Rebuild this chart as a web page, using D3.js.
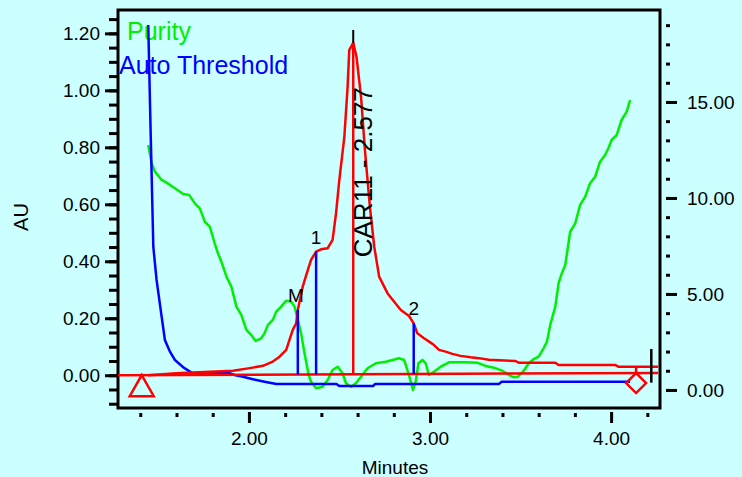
<!DOCTYPE html>
<html>
<head>
<meta charset="utf-8">
<script src="https://cdn.jsdelivr.net/npm/d3@7"></script>
<style>
  body { margin: 0; background: #ccffff; }
  svg { display: block; font-family: "Liberation Sans", Arial, sans-serif; }
</style>
</head>
<body>
<svg id="chart" width="742" height="477"></svg>
<script>
// values
const purityTime = [1.444,1.463,1.481,1.518,1.545,1.591,1.637,1.670,1.701,1.729,1.756,1.784,1.811,1.829,1.848,1.876,1.903,1.931,1.958,1.986,2.013,2.037,2.068,2.086,2.105,2.132,2.151,2.178,2.206,2.233,2.252,2.270,2.288,2.307,2.330,2.343,2.371,2.407,2.435,2.462,2.490,2.517,2.536,2.564,2.591,2.619,2.655,2.701,2.756,2.793,2.829,2.857,2.875,2.894,2.906,2.921,2.936,2.958,2.976,2.994,3.022,3.059,3.105,3.196,3.260,3.307,3.352,3.398,3.435,3.462,3.486,3.517,3.545,3.572,3.600,3.627,3.646,3.664,3.692,3.710,3.728,3.747,3.774,3.802,3.829,3.857,3.884,3.912,3.939,3.967,3.985,4.003,4.031,4.058,4.086,4.105];
const purityValue = [12.76,11.81,11.37,10.94,10.80,10.51,10.21,10.16,9.72,9.46,8.77,8.51,7.64,7.12,6.68,5.90,5.38,4.34,3.91,3.13,2.86,2.55,2.69,2.95,3.39,3.65,4.08,4.34,4.65,4.60,4.34,3.65,2.95,1.91,0.78,0.43,0.09,0.17,0.52,1.04,1.21,0.87,0.35,0.17,0.35,0.69,1.13,1.39,1.47,1.56,1.65,1.56,1.04,0.43,0.00,0.43,1.39,1.56,1.39,0.78,0.95,1.21,1.44,1.44,1.42,1.25,1.16,1.01,0.78,0.66,0.69,0.99,1.39,1.60,1.73,2.17,2.52,3.39,4.34,5.56,6.08,6.51,8.24,8.68,9.64,10.07,10.77,11.11,11.89,12.24,12.59,13.02,13.28,14.06,14.50,15.10];

const chromTime = [1.443,1.600,1.912,2.004,2.077,2.132,2.169,2.206,2.242,2.261,2.270,2.297,2.325,2.343,2.371,2.398,2.435,2.462,2.481,2.499,2.527,2.545,2.554,2.576,2.594,2.619,2.642,2.668,2.692,2.719,2.765,2.802,2.839,2.884,2.910,2.930,2.967,2.995,3.022,3.050,3.086,3.123,3.169,3.224,3.270,3.325,3.472,3.490,3.692,3.710,4.022,4.040,4.260];
const chromAU = [0,0.007,0.016,0.025,0.033,0.048,0.065,0.089,0.159,0.182,0.229,0.311,0.369,0.405,0.434,0.442,0.446,0.475,0.568,0.685,0.837,1.013,1.141,1.167,1.118,0.978,0.779,0.592,0.451,0.346,0.288,0.258,0.229,0.208,0.182,0.147,0.130,0.118,0.106,0.089,0.083,0.075,0.068,0.063,0.060,0.054,0.050,0.044,0.044,0.036,0.036,0.030,0.030];

const thresholdTime = [1.444,1.457,1.472,1.490,1.518,1.536,1.564,1.591,1.637,1.683,1.894,1.921,1.967,2.022,2.086,2.151,2.483,2.499,2.686,2.697,3.380,3.396,4.105];
const thresholdValue = [19.01,13.54,7.46,5.73,3.82,2.60,1.99,1.56,1.18,0.90,0.87,0.78,0.69,0.56,0.43,0.31,0.31,0.21,0.21,0.31,0.31,0.43,0.43];

const baselineTime = [1.277, 4.26];
const baselineAU = [0, 0.008];

const peakNames = ["M", "1", "CAR11 - 2.577", "2"];
const peakTimes = [2.270, 2.371, 2.576, 2.910];
const peakAU = [0.229, 0.434, 1.167, 0.182];
const apexTickTop = 1.212;

const startMarkTime = 1.408;
const endMarkTime = 4.138;
const endLineTime = 4.222;
const endLineAU = [-0.026, 0.092];

const minuteMajor = [2, 3, 4];
const minuteMinor = [1.4, 1.6, 1.8, 2.2, 2.4, 2.6, 2.8, 3.2, 3.4, 3.6, 3.8, 4.2];
const auMajor = [0, 0.2, 0.4, 0.6, 0.8, 1.0, 1.2];
const auMinor = d3.range(-2, 26).map(i => i * 0.05);
const purMajor = [0, 5, 10, 15];
const purMinor = d3.range(0, 20);
const legendNames = ["Purity", "Auto Threshold"];

const svg = d3.select("#chart");
const plotLeft = 118, plotRight = 660, plotTop = 10, plotBottom = 408;

const x = d3.scaleLinear().domain([1.277, 4.27]).range([plotLeft, plotRight]);
const yAU = d3.scaleLinear().domain([-0.115, 1.282]).range([plotBottom, plotTop]);
const yP = d3.scaleLinear().domain([-0.94, 19.79]).range([plotBottom, plotTop]);
const baseAt = d3.scaleLinear().domain(baselineTime).range(baselineAU);

// frame
svg.append("rect")
  .attr("x", plotLeft).attr("y", plotTop)
  .attr("width", plotRight - plotLeft).attr("height", plotBottom - plotTop)
  .attr("fill", "none").attr("stroke", "#000").attr("stroke-width", 3);

function styleAxis(g) {
  g.select(".domain").remove();
  g.selectAll("line").attr("stroke", "#000").attr("stroke-width", 3);
  g.selectAll("text").attr("fill", "#000");
  g.attr("font-family", null).attr("font-size", 19);
}

// left axis (AU)
svg.append("g").attr("transform", `translate(${plotLeft},0)`)
  .call(d3.axisLeft(yAU).tickValues(auMinor).tickSize(9).tickFormat(""))
  .call(styleAxis);
svg.append("g").attr("transform", `translate(${plotLeft},0)`)
  .call(d3.axisLeft(yAU).tickValues(auMajor).tickSize(13).tickPadding(5).tickFormat(d3.format(".2f")))
  .call(styleAxis);

// right axis (purity)
svg.append("g").attr("transform", `translate(${plotRight + 6},0)`)
  .call(d3.axisRight(yP).tickValues(purMinor).tickSize(4).tickFormat(""))
  .call(styleAxis);
svg.append("g").attr("transform", `translate(${plotRight + 6},0)`)
  .call(d3.axisRight(yP).tickValues(purMajor).tickSize(11).tickPadding(10).tickFormat(d3.format(".2f")))
  .call(styleAxis);

// bottom axis (minutes)
svg.append("g").attr("transform", `translate(0,${plotBottom + 5})`)
  .call(d3.axisBottom(x).tickValues(minuteMinor).tickSize(4).tickFormat(""))
  .call(styleAxis);
svg.append("g").attr("transform", `translate(0,${plotBottom + 4})`)
  .call(d3.axisBottom(x).tickValues(minuteMajor).tickSize(11).tickPadding(9).tickFormat(d3.format(".2f")))
  .call(styleAxis);

svg.append("text")
  .attr("x", 395).attr("y", 474)
  .attr("text-anchor", "middle").attr("font-size", 19)
  .text("Minutes");

svg.append("text")
  .attr("transform", "translate(28,217) rotate(-90)")
  .attr("text-anchor", "middle").attr("font-size", 20)
  .text("AU");

// legend
svg.append("text").attr("x", 127).attr("y", 40)
  .attr("font-size", 25).attr("fill", "#00ee00").text(legendNames[0]);
svg.append("text").attr("x", 119).attr("y", 74)
  .attr("font-size", 25).attr("fill", "#0000ff").text(legendNames[1]);

// purity (green) and auto threshold (blue), right axis
const purLine = d3.line().x(d => x(d[0])).y(d => yP(d[1]));
svg.append("path")
  .datum(d3.zip(purityTime, purityValue))
  .attr("fill", "none").attr("stroke", "#00ee00").attr("stroke-width", 2.5)
  .attr("stroke-linejoin", "round")
  .attr("d", purLine);

svg.append("path")
  .datum(d3.zip(thresholdTime, thresholdValue))
  .attr("fill", "none").attr("stroke", "#0000ff").attr("stroke-width", 2.5)
  .attr("d", purLine);

// chromatogram (red), left axis
const auLine = d3.line().x(d => x(d[0])).y(d => yAU(d[1]));
svg.append("path")
  .datum(d3.zip(chromTime, chromAU))
  .attr("fill", "none").attr("stroke", "#ff0000").attr("stroke-width", 2.5)
  .attr("stroke-linejoin", "round")
  .attr("d", auLine);

svg.append("path")
  .datum(d3.zip(baselineTime, baselineAU))
  .attr("fill", "none").attr("stroke", "#ff0000").attr("stroke-width", 2.5)
  .attr("d", auLine);

// drop lines and peak labels
peakNames.forEach((name, i) => {
  const t = peakTimes[i];
  const main = name.length > 2;
  svg.append("line")
    .attr("x1", x(t)).attr("x2", x(t))
    .attr("y1", yAU(baseAt(t))).attr("y2", yAU(peakAU[i]))
    .attr("stroke", main ? "#ff0000" : "#0000ff").attr("stroke-width", 2.5);
  if (main) {
    svg.append("line")
      .attr("x1", x(t)).attr("x2", x(t))
      .attr("y1", yAU(peakAU[i])).attr("y2", yAU(apexTickTop))
      .attr("stroke", "#000").attr("stroke-width", 2);
    svg.append("text")
      .attr("transform", `translate(${x(t) + 19},${yAU(baseAt(t)) - 117}) rotate(-90)`)
      .attr("font-size", 26).attr("fill", "#000")
      .text(name);
  } else {
    svg.append("text")
      .attr("x", x(t) - (name === "M" ? 2 : 0)).attr("y", yAU(peakAU[i]) - 8)
      .attr("text-anchor", "middle").attr("font-size", 19).attr("fill", "#000")
      .text(name);
  }
});

// integration start / end markers
const sx = x(startMarkTime), sy = yAU(baseAt(startMarkTime));
svg.append("path")
  .attr("d", `M${sx},${sy}L${sx + 12},${sy + 21}L${sx - 12},${sy + 21}Z`)
  .attr("fill", "none").attr("stroke", "#ff0000").attr("stroke-width", 2.5);

const ex = x(endMarkTime), ey = yAU(baseAt(endMarkTime));
svg.append("line")
  .attr("x1", ex).attr("x2", ex)
  .attr("y1", ey).attr("y2", yAU(chromAU[chromAU.length - 1]))
  .attr("stroke", "#ff0000").attr("stroke-width", 2.5);
svg.append("path")
  .attr("d", `M${ex},${ey}L${ex + 10},${ey + 10}L${ex},${ey + 20}L${ex - 10},${ey + 10}Z`)
  .attr("fill", "none").attr("stroke", "#ff0000").attr("stroke-width", 2.5);

svg.append("line")
  .attr("x1", x(endLineTime)).attr("x2", x(endLineTime))
  .attr("y1", yAU(endLineAU[0])).attr("y2", yAU(endLineAU[1]))
  .attr("stroke", "#000").attr("stroke-width", 2.5);
</script>
</body>
</html>
